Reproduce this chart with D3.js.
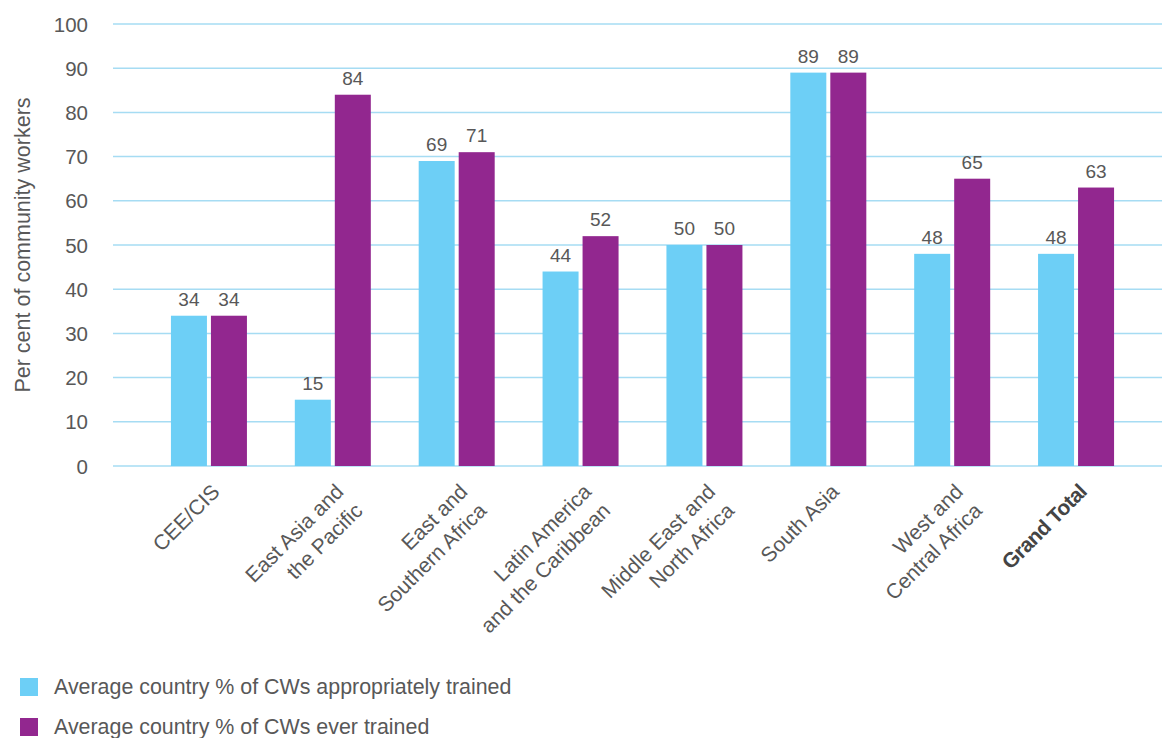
<!DOCTYPE html>
<html>
<head>
<meta charset="utf-8">
<script src="https://cdn.jsdelivr.net/npm/d3@7"></script>
<style>
  html, body { margin: 0; padding: 0; background: #fff; }
  svg { display: block; font-family: "Liberation Sans", Arial, sans-serif; }
</style>
</head>
<body>
<svg id="chart" width="1162" height="738"></svg>
<script>
// Regions (multi-line labels split with "|"), last one is the overall total
const categories = [
  "CEE/CIS",
  "East Asia and|the Pacific",
  "East and|Southern Africa",
  "Latin America|and the Caribbean",
  "Middle East and|North Africa",
  "South Asia",
  "West and|Central Africa",
  "Grand Total"
];
const appropriatelyTrained = [34, 15, 69, 44, 50, 89, 48, 48];
const everTrained = [34, 84, 71, 52, 50, 89, 65, 63];
const yTicks = [0, 10, 20, 30, 40, 50, 60, 70, 80, 90, 100];
const seriesNames = [
  "Average country % of CWs appropriately trained",
  "Average country % of CWs ever trained"
];
const seriesColors = ["#6dcff6", "#92278f"];

const svg = d3.select("#chart");
const textColor = "#585858";
const gridColor = "#a6dcf3";

const y = d3.scaleLinear().domain([0, 100]).range([466, 24]);
const x = d3.scaleBand().domain(categories).range([147, 1138]).padding(0);
const barW = 36, barGap = 4;

// Horizontal gridlines
svg.append("g").selectAll("line").data(yTicks).join("line")
  .attr("x1", 113).attr("x2", 1162)
  .attr("y1", d => y(d)).attr("y2", d => y(d))
  .attr("stroke", gridColor).attr("stroke-width", 1.5);

// Y axis tick labels
const yAxis = d3.axisLeft(y).tickValues(yTicks).tickSize(0).tickPadding(0);
const yg = svg.append("g").attr("transform", "translate(88,0)").call(yAxis);
yg.select(".domain").remove();
yg.selectAll("text")
  .attr("fill", textColor)
  .style("font-family", "Liberation Sans, Arial, sans-serif")
  .style("font-size", "20.5px")
  .attr("dy", "0.35em");

// Y axis title
svg.append("text")
  .attr("transform", "translate(30,245) rotate(-90)")
  .attr("text-anchor", "middle")
  .attr("fill", textColor)
  .style("font-size", "21.5px")
  .text("Per cent of community workers");

// Bars with value labels
const series = [appropriatelyTrained, everTrained];
series.forEach((vals, si) => {
  const g = svg.append("g");
  const xOff = si === 0 ? -barGap / 2 - barW : barGap / 2;
  g.selectAll("rect").data(categories).join("rect")
    .attr("x", d => x(d) + x.bandwidth() / 2 + xOff)
    .attr("y", (d, i) => y(vals[i]))
    .attr("width", barW)
    .attr("height", (d, i) => y(0) - y(vals[i]))
    .attr("fill", seriesColors[si]);
  g.selectAll("text").data(categories).join("text")
    .attr("x", d => x(d) + x.bandwidth() / 2 + xOff + barW / 2)
    .attr("y", (d, i) => y(vals[i]) - 10)
    .attr("text-anchor", "middle")
    .attr("fill", textColor)
    .style("font-size", "19px")
    .text((d, i) => vals[i]);
});

// Category labels, rotated
const labels = svg.append("g").selectAll("text").data(categories).join("text")
  .attr("transform", d => `translate(${x(d) + x.bandwidth() / 2 + 12},${493}) rotate(-45)`)
  .attr("text-anchor", "end")
  .attr("fill", d => d === "Grand Total" ? "#444" : textColor)
  .style("font-size", "21px")
  .style("font-weight", d => d === "Grand Total" ? "bold" : "normal")
  .style("letter-spacing", d => d === "Grand Total" ? "-0.6px" : "0");
labels.each(function(d) {
  const parts = d.split("|");
  d3.select(this).selectAll("tspan").data(parts).join("tspan")
    .attr("x", 0)
    .attr("dy", (p, i) => i === 0 ? 0 : "1.28em")
    .text(p => p);
});

// Legend
const legend = svg.append("g").selectAll("g").data(seriesNames).join("g")
  .attr("transform", (d, i) => `translate(20,${678 + i * 40})`);
legend.append("rect")
  .attr("width", 18).attr("height", 18)
  .attr("fill", (d, i) => seriesColors[i]);
legend.append("text")
  .attr("x", 34).attr("y", 16)
  .attr("fill", textColor)
  .style("font-size", "21.4px")
  .text(d => d);
</script>
</body>
</html>
